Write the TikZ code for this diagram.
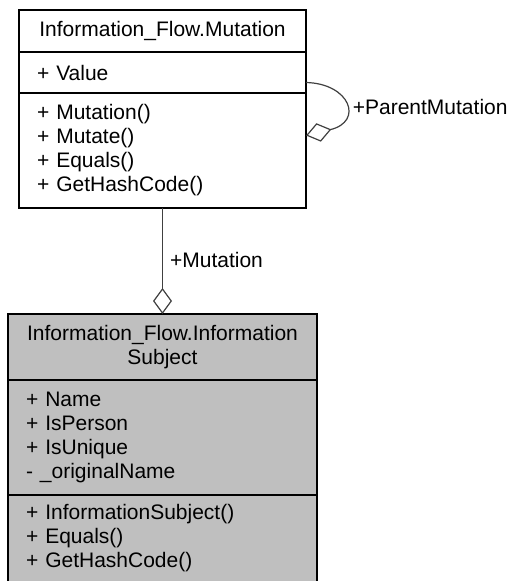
\documentclass[tikz,border=0pt]{standalone}
\usepackage{fontspec}
\setmainfont{Liberation Sans}
\usepackage{xcolor}
\usepackage{tikz}
\usetikzlibrary{positioning, arrows.meta, calc}
\definecolor{classgray}{HTML}{BFBFBF}
\definecolor{linkgray}{HTML}{404040}

\begin{document}
\begin{tikzpicture}[x=1pt,y=-1pt,
		every node/.append style={font=\fontsize{21}{24}\selectfont},
		clsbox/.style={draw=black,line width=1.2pt,inner xsep=18pt,inner ysep=0pt,outer sep=0pt},
		clstitle/.style={clsbox,align=center},
		clsbody/.style={clsbox,align=left},
		aggr/.style={linkgray,line width=1.2pt,{Diamond[open,length=26pt,width=19pt]}-},
		aggrlabel/.style={right,inner sep=0pt,text=black}]
			\useasboundingbox (0,0) rectangle (512,581);
			% class Mutation
			\node[clstitle,minimum width=287pt,minimum height=42pt,anchor=north] (mutTitle) at (162.5,10) {Information\_Flow.Mutation};
			\node[clsbody,text width=251pt,minimum height=41pt,below=0pt of mutTitle] (mutAttr) {+ Value};
			\node[clsbody,text width=251pt,minimum height=115pt,below=0pt of mutAttr] (mutOps) {+ Mutation()\\+ Mutate()\\+ Equals()\\+ GetHashCode()};
			% class InformationSubject
			\node[clstitle,fill=classgray,minimum width=309pt,minimum height=66pt,anchor=north] (subjTitle) at (162.5,314) {Information\_Flow.Information\\Subject};
			\node[clsbody,fill=classgray,text width=273pt,minimum height=115pt,below=0pt of subjTitle] (subjAttr) {+ Name\\+ IsPerson\\+ IsUnique\\- \_originalName};
			\node[clsbody,fill=classgray,text width=273pt,minimum height=87pt,below=0pt of subjAttr] (subjOps) {+ InformationSubject()\\+ Equals()\\+ GetHashCode()};
			% aggregations
			\draw[aggr] (subjTitle.north) -- node[aggrlabel,xshift=7pt,yshift=1pt] (mutLbl) {+Mutation} (mutOps.south);
			\coordinate (loopStart) at ([yshift=-10pt]mutAttr.east);
			\coordinate (loopEnd) at ([yshift=15pt]mutOps.east);
			\draw[aggr] (loopEnd) .. controls +(58,-14) and +(44,1) .. (loopStart)
				node[aggrlabel,pos=0.5,xshift=8pt,yshift=-3pt] (parentLbl) {+ParentMutation};
\end{tikzpicture}
\end{document}
